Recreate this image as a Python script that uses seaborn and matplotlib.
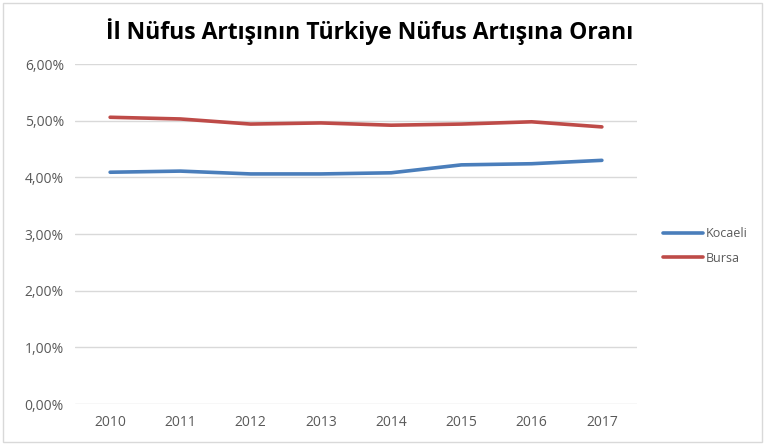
import pandas as pd
import matplotlib.pyplot as plt
import seaborn as sns
from matplotlib.ticker import FuncFormatter

# Veriler
yillar = [2010, 2011, 2012, 2013, 2014, 2015, 2016, 2017]
kocaeli = [4.09, 4.11, 4.06, 4.06, 4.08, 4.22, 4.24, 4.30]
bursa = [5.06, 5.03, 4.94, 4.96, 4.92, 4.94, 4.98, 4.89]
y_ticks = [0, 1, 2, 3, 4, 5, 6]

df = pd.DataFrame({
    "Yil": [str(y) for y in yillar] * 2,
    "Oran": kocaeli + bursa,
    "Il": ["Kocaeli"] * len(yillar) + ["Bursa"] * len(yillar),
})

sns.set_style("white")
plt.rcParams['font.family'] = ['Open Sans', 'DejaVu Sans']

fig = plt.figure(figsize=(7.65, 4.44), dpi=100)
ax = fig.add_axes([75 / 765, 1 - 404 / 444, (637 - 75) / 765, (404 - 64) / 444])

sns.lineplot(data=df, x="Yil", y="Oran", hue="Il", palette=["#4a7ebb", "#be4b48"],
             linewidth=2.6, ax=ax, sort=False)

ax.set_xlim(-0.5, 7.5)
ax.set_ylim(0, 6)
ax.set_yticks(y_ticks)
ax.yaxis.set_major_formatter(FuncFormatter(lambda v, p: f"{v:.2f}%".replace(".", ",")))
ax.grid(axis="y", color="#d9d9d9", linewidth=1)
ax.set_axisbelow(True)
for s in ax.spines.values():
    s.set_visible(False)
ax.tick_params(axis="both", length=0, labelsize=10, colors="#595959", pad=8)
ax.set_xlabel("")
ax.set_ylabel("")

ax.legend(loc="center left", bbox_to_anchor=((663 - 75) / 562, 0.465), frameon=False,
          fontsize=9, labelcolor="#595959", handlelength=3.2, handletextpad=0.2,
          labelspacing=0.95, borderaxespad=0, borderpad=0)

fig.text(370 / 765, 1 - 32 / 444, "İl Nüfus Artışının Türkiye Nüfus Artışına Oranı",
         ha="center", va="center", fontsize=16.5, fontweight="bold", color="black")

# çerçeve
fig.patches.append(plt.Rectangle((0.004, 0.004), 0.992, 0.99, transform=fig.transFigure,
                                 fill=False, edgecolor="#d9d9d9", linewidth=1))

plt.savefig("out.png", dpi=100)
